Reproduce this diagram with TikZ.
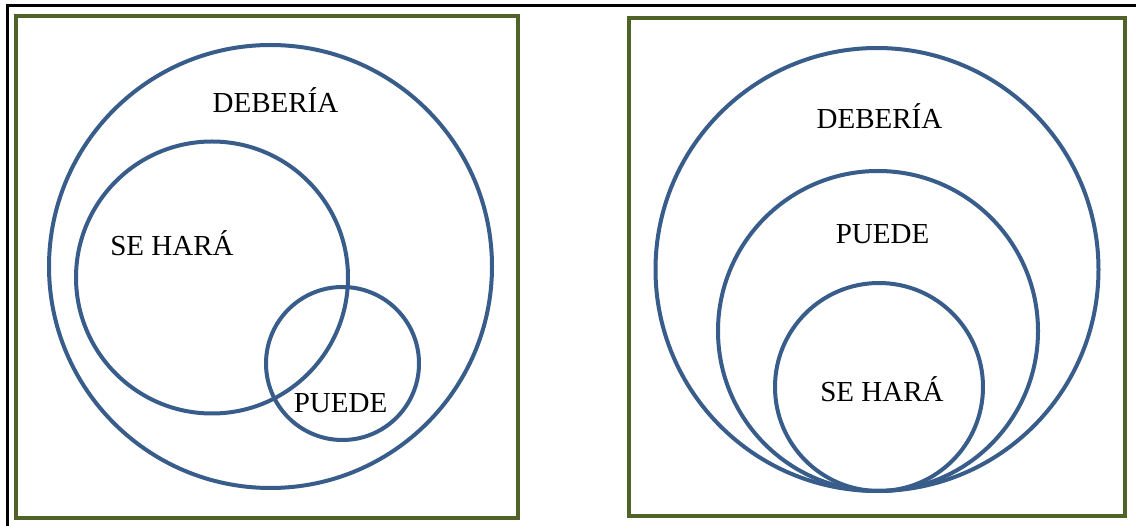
\documentclass[tikz,border=0pt]{standalone}
\usepackage{fontspec}
\setmainfont{Liberation Serif}
\definecolor{cblue}{HTML}{385D8A}
\definecolor{cgreen}{HTML}{4F6228}
\begin{document}
\begin{tikzpicture}[x=1pt,y=-1pt,
  frame/.style={draw=cgreen,line width=4.5pt},
  ring/.style={draw=cblue,line width=4pt},
  lbl/.style={anchor=base,inner sep=0pt,font=\fontsize{29}{31}\selectfont}]
\useasboundingbox (0,0) rectangle (1136,526);
\fill[white] (0,0) rectangle (1136,526);
% outer black edges
\coordinate (tl) at (7,6);
\coordinate (tr) at (1136,6);
\coordinate (bl) at (7,526);
\draw[line width=3pt,black] (bl) -- (tl) -- (tr);
% frames
\draw[frame] (16,16) rectangle (518,518);
\draw[frame] (629,18) rectangle (1125,516);
% left diagram
\draw[ring] (270.5,266.5) circle (221.5);
\draw[ring] (212,277.5) circle (136);
\draw[ring] (342.5,363.5) circle (76.5);
\node[lbl] (d1) at (275.5,113) {DEBERÍA};
\node[lbl] (s1) at (172,256) {SE HARÁ};
\node[lbl] (p1) at (340.5,413) {PUEDE};
% right diagram
\draw[ring] (877,269.5) circle (221.5);
\draw[ring] (878,331) circle (160);
\draw[ring] (879,387) circle (104);
\node[lbl] (d2) at (879.5,129) {DEBERÍA};
\node[lbl] (p2) at (882.5,244) {PUEDE};
\node[lbl] (s2) at (882,402) {SE HARÁ};
\end{tikzpicture}
\end{document}
